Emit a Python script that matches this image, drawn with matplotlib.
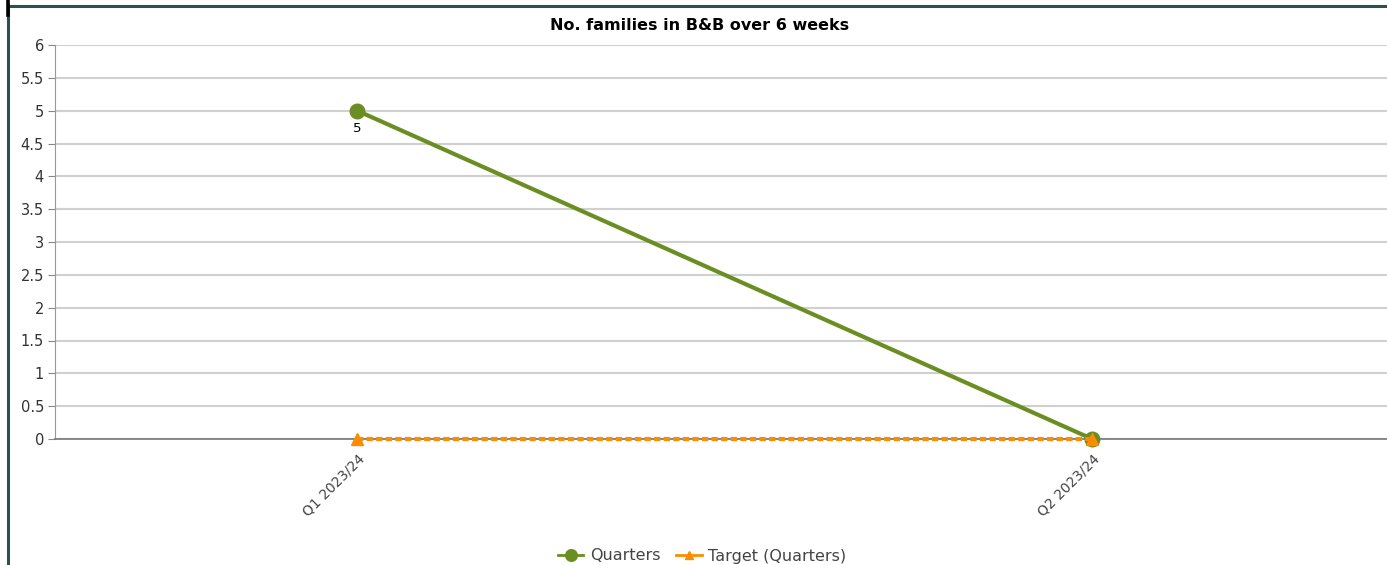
import matplotlib
matplotlib.use("Agg")
import matplotlib.pyplot as plt
from matplotlib.lines import Line2D

categories = ["Q1 2023/24", "Q2 2023/24"]
quarters = [5, 0]
target = [0, 0]
title = "No. families in B&B over 6 weeks"
yticks = [0, 0.5, 1, 1.5, 2, 2.5, 3, 3.5, 4, 4.5, 5, 5.5, 6]

W, H = 1387, 565
fig = plt.figure(figsize=(W / 100, H / 100), dpi=100)
ax = fig.add_axes([55 / W, 1 - 439 / H, 1 - 55 / W, (439 - 45) / H])

x = list(range(len(categories)))
ax.plot(x, quarters, color="#6b8e23", lw=3, marker="o", markersize=10.5,
        label="Quarters", zorder=3, clip_on=False)
ax.plot(x, target, color="#ff8c00", lw=3, ls=(0, (1.5, 0.8)), marker="^",
        markersize=8, label="Target (Quarters)", zorder=4, clip_on=False)
ax.annotate(str(quarters[0]), (x[0], quarters[0]), xytext=(0, -13),
            textcoords="offset points", ha="center", va="center", fontsize=9.5, color="black")

ax.set_xlim(-0.411, 1.401)
ax.set_ylim(0, 6)
ax.set_yticks(yticks)
ax.set_yticklabels([f"{v:g}" for v in yticks])
ax.set_xticks(x)
ax.set_xticklabels(categories, rotation=45, ha="right", rotation_mode="anchor")
ax.tick_params(axis="y", length=5, color="#888888", labelsize=10.5, labelcolor="#333333", pad=3)
ax.tick_params(axis="x", length=4, color="#888888", labelsize=10, labelcolor="#444444", pad=5)
ax.grid(axis="y", color="#d0d0d0", lw=1.5)
ax.set_axisbelow(True)
for s in ["top", "right"]:
    ax.spines[s].set_visible(False)
ax.spines["left"].set_color("#999999")
ax.spines["bottom"].set_color("#777777")
ax.spines["bottom"].set_linewidth(1.2)

fig.text(700 / W, 1 - 25 / H, title, ha="center", va="center", fontsize=11.5, fontweight="bold")

handles, labels = ax.get_legend_handles_labels()
leg = fig.legend(handles, labels, loc="center", bbox_to_anchor=(702 / W, 1 - 556 / H),
                 ncol=2, frameon=False, fontsize=11.5, handlelength=1.6, columnspacing=1.0,
                 handletextpad=0.4, borderaxespad=0, markerscale=0.8)
for t in leg.get_texts():
    t.set_color("#444444")
for lh in leg.get_lines():
    lh.set_linewidth(2)
    lh.set_linestyle("-")

fig.add_artist(Line2D([8 / W, 1], [1 - 5.5 / H, 1 - 5.5 / H], color="#2f4f4f", lw=2.2))
fig.add_artist(Line2D([8 / W, 8 / W], [0, 1 - 5 / H], color="#2f4f4f", lw=2.2))
fig.add_artist(Line2D([7.5 / W, 7.5 / W], [1 - 15 / H, 1], color="black", lw=2.6))

fig.savefig("out.png", dpi=100)
